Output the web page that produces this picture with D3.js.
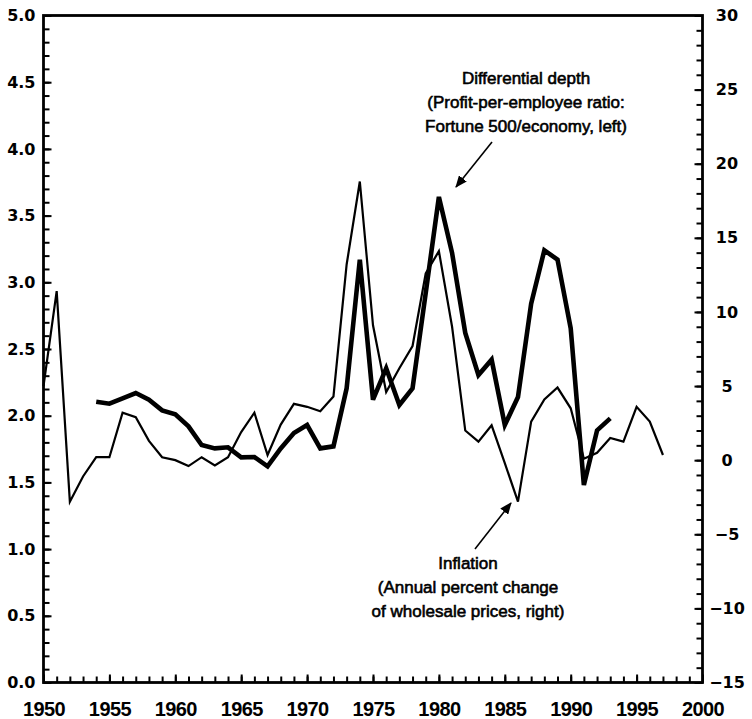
<!DOCTYPE html>
<html>
<head>
<meta charset="utf-8">
<script src="https://cdn.jsdelivr.net/npm/d3@7"></script>
<style>
  body { margin: 0; background: #fff; }
  .note { font-family: "Liberation Sans", Arial, sans-serif; font-size: 17px; fill: #000; stroke: #000; stroke-width: 0.6; }
  .ylab text { font-family: "DejaVu Sans", sans-serif; font-weight: bold; font-size: 16px; }
  .xlab text { font-family: "Liberation Sans", Arial, sans-serif; font-weight: bold; font-size: 20px; letter-spacing: -0.6px; }
</style>
</head>
<body>
<svg id="chart" width="752" height="719"></svg>
<script>
// years
var inflYears = [1950, 1951, 1952, 1953, 1954, 1955, 1956, 1957, 1958, 1959,
  1960, 1961, 1962, 1963, 1964, 1965, 1966, 1967, 1968, 1969,
  1970, 1971, 1972, 1973, 1974, 1975, 1976, 1977, 1978, 1979,
  1980, 1981, 1982, 1983, 1984, 1985, 1986, 1987, 1988, 1989,
  1990, 1991, 1992, 1993, 1994, 1995, 1996, 1997]
// inflation, annual % change of wholesale prices (right axis)
var inflation = [5.0, 11.4, -2.8, -1.1, 0.2, 0.2, 3.2, 2.9, 1.3, 0.2,
  0.0, -0.4, 0.2, -0.35, 0.2, 1.9, 3.2, 0.35, 2.4, 3.8,
  3.6, 3.3, 4.3, 13.2, 18.8, 9.1, 4.6, 6.2, 7.7, 12.6,
  14.1, 9.0, 2.0, 1.25, 2.35, -0.2, -2.8, 2.6, 4.1, 4.9,
  3.5, 0.1, 0.5, 1.5, 1.25, 3.6, 2.6, 0.35]

var depthYears = [1954, 1955, 1956, 1957, 1958, 1959,
  1960, 1961, 1962, 1963, 1964, 1965, 1966, 1967, 1968, 1969,
  1970, 1971, 1972, 1973, 1974, 1975, 1976, 1977, 1978, 1979,
  1980, 1981, 1982, 1983, 1984, 1985, 1986, 1987, 1988, 1989,
  1990, 1991, 1992, 1993]
// differential depth, Fortune 500 / economy profit per employee (left axis)
var depth = [2.105, 2.09, 2.13, 2.17, 2.12, 2.04,
  2.01, 1.92, 1.78, 1.755, 1.763, 1.688, 1.69, 1.62, 1.755, 1.87,
  1.93, 1.755, 1.77, 2.205, 3.17, 2.12, 2.355, 2.08, 2.205, 2.92,
  3.64, 3.22, 2.62, 2.305, 2.42, 1.93, 2.14, 2.84, 3.24, 3.17,
  2.655, 1.48, 1.89, 1.98]

var xTicks = [1950, 1955, 1960, 1965, 1970, 1975, 1980, 1985, 1990, 1995, 2000]
var leftTicks = [0, 0.5, 1, 1.5, 2, 2.5, 3, 3.5, 4, 4.5, 5]
var rightTicks = [-15, -10, -5, 0, 5, 10, 15, 20, 25, 30]

var depthNote = ["Differential depth", "(Profit-per-employee ratio:", "Fortune 500/economy, left)"]
var inflNote = ["Inflation", "(Annual percent change", "of wholesale prices, right)"]

// plot box (window.top is taken, so no bare "top")
var mLeft = 43.5, mRight = 702.5, mTop = 15.5, mBottom = 682.5

var x = d3.scaleLinear().domain([1950, 2000]).range([mLeft, mRight])
var yL = d3.scaleLinear().domain([0, 5]).range([mBottom, mTop])
var yR = d3.scaleLinear().domain([-15, 30]).range([mBottom, mTop])

var svg = d3.select('#chart')

// minor ticks
svg.append('g')
  .attr('transform', 'translate(' + mLeft + ',0)')
  .call(d3.axisLeft(yL).tickValues(d3.range(0, 5.01, 0.1)).tickSize(-6).tickFormat(''))
  .call(g => g.select('.domain').remove())
svg.append('g')
  .attr('transform', 'translate(' + mRight + ',0)')
  .call(d3.axisRight(yR).tickValues(d3.range(-15, 30.01, 1)).tickSize(-6).tickFormat(''))
  .call(g => g.select('.domain').remove())
svg.append('g')
  .attr('transform', 'translate(0,' + mBottom + ')')
  .call(d3.axisBottom(x).tickValues(d3.range(1950, 2001, 1)).tickSize(-6).tickFormat(''))
  .call(g => g.select('.domain').remove())

// major ticks + labels
svg.append('g').attr('class', 'ylab')
  .attr('transform', 'translate(' + mLeft + ',0)')
  .call(d3.axisLeft(yL).tickValues(leftTicks).tickSize(-8).tickPadding(8).tickFormat(d3.format('.1f')))
  .call(g => g.select('.domain').remove())

var rAxis = svg.append('g').attr('class', 'ylab')
  .attr('transform', 'translate(' + mRight + ',0)')
  .call(d3.axisRight(yR).tickValues(rightTicks).tickSize(-8).tickFormat(d3.format('d')))
  .call(g => g.select('.domain').remove())
rAxis.selectAll('text').attr('x', 24.5).attr('text-anchor', 'middle')

svg.append('g').attr('class', 'xlab')
  .attr('transform', 'translate(0,' + mBottom + ')')
  .call(d3.axisBottom(x).tickValues(xTicks).tickSize(-8).tickPadding(19).tickFormat(d3.format('d')))
  .call(g => g.select('.domain').remove())

svg.selectAll('.tick line').attr('stroke', '#000').attr('stroke-width', 2)

// frame
svg.append('rect')
  .attr('x', mLeft).attr('y', mTop)
  .attr('width', mRight - mLeft).attr('height', mBottom - mTop)
  .attr('fill', 'none').attr('stroke', '#000').attr('stroke-width', 2.8)

// lines
var inflLine = d3.line()
  .x((d, i) => x(inflYears[i]))
  .y(d => yR(d))
var depthLine = d3.line()
  .x((d, i) => x(depthYears[i]))
  .y(d => yL(d))

svg.append('path')
  .datum(inflation)
  .attr('d', inflLine)
  .attr('fill', 'none').attr('stroke', '#000').attr('stroke-width', 2.2)
  .attr('stroke-linejoin', 'miter')

svg.append('path')
  .datum(depth)
  .attr('d', depthLine)
  .attr('fill', 'none').attr('stroke', '#000').attr('stroke-width', 4.6)
  .attr('stroke-linejoin', 'miter')

// arrows
svg.append('defs').append('marker')
  .attr('id', 'head')
  .attr('viewBox', '0 0 12 10')
  .attr('refX', 11).attr('refY', 5)
  .attr('markerWidth', 12).attr('markerHeight', 10)
  .attr('markerUnits', 'userSpaceOnUse')
  .attr('orient', 'auto')
  .append('path').attr('d', 'M0,0 L12,5 L0,10 Z').attr('fill', '#000')

svg.append('line')
  .attr('x1', 492).attr('y1', 142).attr('x2', 456).attr('y2', 187)
  .attr('stroke', '#000').attr('stroke-width', 1.6)
  .attr('marker-end', 'url(#head)')
svg.append('line')
  .attr('x1', 475).attr('y1', 549).attr('x2', 511).attr('y2', 503)
  .attr('stroke', '#000').attr('stroke-width', 1.6)
  .attr('marker-end', 'url(#head)')

// notes
svg.append('g').selectAll('text')
  .data(depthNote)
  .join('text')
  .attr('class', 'note')
  .attr('x', 526)
  .attr('y', (d, i) => 84 + i * 24)
  .attr('text-anchor', 'middle')
  .text(d => d)

svg.append('g').selectAll('text')
  .data(inflNote)
  .join('text')
  .attr('class', 'note')
  .attr('x', 468)
  .attr('y', (d, i) => 569 + i * 24)
  .attr('text-anchor', 'middle')
  .text(d => d)
</script>
</body>
</html>
